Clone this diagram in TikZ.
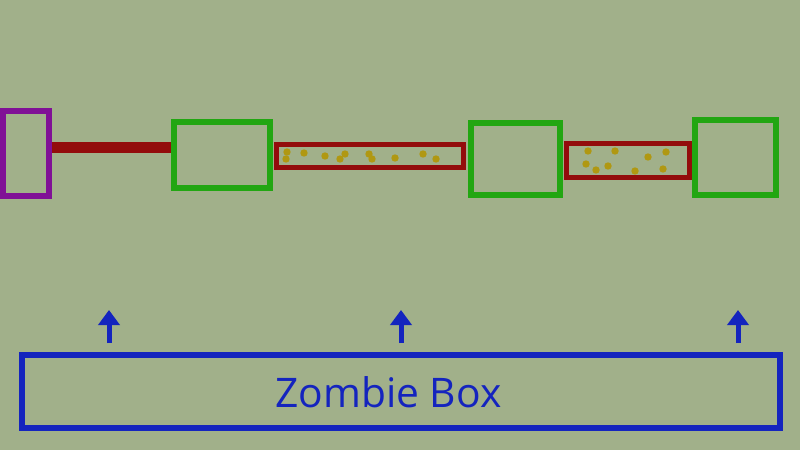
\documentclass[tikz,border=0pt]{standalone}
\usepackage{fontspec}
\setmainfont{Open Sans}
\usetikzlibrary{arrows.meta}
\definecolor{swamp}{RGB}{161,176,138}
\definecolor{zpurple}{RGB}{128,16,150}
\definecolor{zred}{RGB}{147,12,12}
\definecolor{zgreen}{RGB}{34,166,18}
\definecolor{zblue}{RGB}{20,36,190}
\definecolor{zgold}{RGB}{176,152,18}

\begin{document}
\begin{tikzpicture}[x=0.02cm, y=0.02cm,
		cell/.style={draw=zgreen, line width=0.12cm, shape=rectangle, inner sep=0pt},
		tube/.style={draw=zred, line width=0.1cm, shape=rectangle, inner sep=0pt},
		grain/.style={fill=zgold},
		lift/.style={draw=zblue, line width=0.1cm, -{Triangle[width=0.42cm, length=0.3cm]}}]
			\fill[swamp] (0, 0) rectangle (800, 450);
			\useasboundingbox (0, 0) rectangle (800, 450);
			\node[draw=zpurple, line width=0.12cm, inner sep=0pt, minimum width=0.92cm, minimum height=1.7cm] (gate) at (26, 296.5){};
			\node[cell, minimum width=1.92cm, minimum height=1.32cm] (cellA) at (222, 295){};
			\node[tube, minimum width=3.76cm, minimum height=0.48cm] (tubeA) at (370, 294){};
			\node[cell, minimum width=1.78cm, minimum height=1.44cm] (cellB) at (515.5, 291){};
			\node[tube, minimum width=2.46cm, minimum height=0.7cm] (tubeB) at (627.5, 289.5){};
			\node[cell, minimum width=1.62cm, minimum height=1.5cm] (cellC) at (735.5, 292.5){};
			\draw[zred, line width=0.24cm] ([yshift=0.12cm]gate.east) -- ([yshift=0.12cm]gate.east -| cellA.west);
			% grains in the tubes
			\foreach \gx/\gy in {287/298, 286/291, 304/297, 325/294, 345/296, 340/291, 369/296, 372/291, 395/292, 423/296, 436/291}
				\fill[grain] (\gx, \gy) circle (0.074cm);
			\foreach \gx/\gy in {588/299, 615/299, 648/293, 666/298, 586/286, 596/280, 608/284, 635/279, 663/281}
				\fill[grain] (\gx, \gy) circle (0.074cm);
			\node[draw=zblue, line width=0.12cm, inner sep=0pt, minimum width=15.16cm, minimum height=1.46cm] (zbox) at (401, 58.5){};
			\node[text=zblue, font=\fontsize{23.2}{28}\selectfont, inner sep=0pt] (zlabel) at (388.5, 58){Zombie Box};
			\coordinate (upA) at (109, 140);
			\coordinate (upB) at (401, 140);
			\coordinate (upC) at (738, 140);
			\draw[lift] ([yshift=0.18cm]zbox.north -| upA) -- (upA);
			\draw[lift] ([yshift=0.18cm]zbox.north -| upB) -- (upB);
			\draw[lift] ([yshift=0.18cm]zbox.north -| upC) -- (upC);
		\end{tikzpicture}
\end{document}
